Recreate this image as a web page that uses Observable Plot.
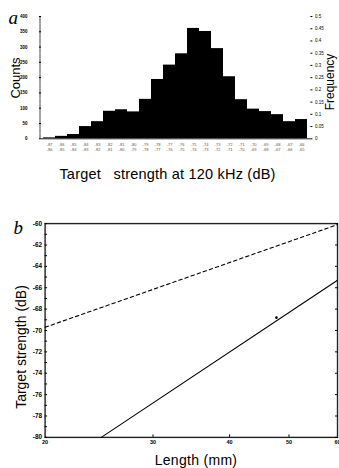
<!DOCTYPE html>
<html><head><meta charset="utf-8">
<script src="https://cdn.jsdelivr.net/npm/d3@7"></script>
<script src="https://cdn.jsdelivr.net/npm/@observablehq/plot@0.6"></script>
<style>
body{margin:0;background:#fff;overflow:hidden;}
#wrap{position:relative;width:339px;height:468px;overflow:hidden;background:#fff;font-family:"Liberation Sans",Arial,Helvetica,sans-serif;color:#000;}
#a{position:absolute;left:0;top:0;}
#b{position:absolute;left:0;top:200px;}
.lab{position:absolute;white-space:nowrap;line-height:1;transform:translate(-50%,-50%);}
.rot{transform:translate(-50%,-50%) rotate(-90deg);}
</style></head><body><div id="wrap"><div id="a"></div><div id="b"></div>
<div class="lab rot" style="left:15px;top:78px;font-size:13px">Counts</div>
<div class="lab rot" style="left:330px;top:82px;font-size:12px">Frequency</div>
<div class="lab" style="left:167.5px;top:174px;font-size:14.5px;letter-spacing:0.2px">Target&nbsp;&nbsp; strength at 120 kHz (dB)</div>
<div class="lab rot" style="left:21px;top:347px;font-size:14px">Target strength (dB)</div>
<div class="lab" style="left:196px;top:460px;font-size:14px;letter-spacing:0.3px">Length (mm)</div>
</div>
<script>
// ---- Panel a: histogram of target strength at 120 kHz ----
const binLow  = [-87,-86,-85,-84,-83,-82,-81,-80,-79,-78,-77,-76,-75,-74,-73,-72,-71,-70,-69,-68,-67,-66];
const binHigh = [-86,-85,-84,-83,-82,-81,-80,-79,-78,-77,-76,-75,-74,-73,-72,-71,-70,-69,-68,-67,-66,-65];
const counts  = [3,8,14,40,56,90,95,88,129,194,241,278,361,351,295,203,128,97,89,79,56,63];
const countTicks = [0,50,100,150,200,250,300,350,400];
const freqTicks  = [0,0.05,0.1,0.15,0.2,0.25,0.3,0.35,0.4,0.45,0.5];
const countsPerFreq = 800; // 0.5 on the right axis sits at 400 counts

// ---- Panel b: target strength vs length ----
const dashedLen = [20, 60];
const dashedTS  = [-69.7, -60.1];
const solidLen  = [24.7, 60];
const solidTS   = [-80, -65.3];
const pointLen  = [47.7];
const pointTS   = [-68.8];
const yTicksB      = [-80,-78,-76,-74,-72,-70,-68,-66,-64,-62,-60];
const yMinorTicksB = d3.range(-80, -59, 1);
const xTicksB      = [20,30,40,50,60];

const sans = "Liberation Sans, Arial, Helvetica, sans-serif";
const serif = "Liberation Serif, DejaVu Serif, serif";

const binLabels = binLow.map((l,i)=> `${l} ${binHigh[i]}`);
const histData = binLabels.map((b,i)=>({bin:b, count:counts[i]}));

const hA = 195;
const chartA = Plot.plot({
  width: 339, height: hA,
  marginLeft: 41, marginRight: 29.6, marginTop: 16, marginBottom: hA - 138.3,
  style: {fontFamily: sans, background: "transparent", overflow: "visible", color: "black"},
  x: {type: "band", domain: binLabels, padding: 0},
  y: {domain: [0, 400]},
  marks: [
    Plot.barY(histData, {x: "bin", y: "count", fill: "black"}),
    Plot.frame({anchor: "left", stroke: "#444", strokeDasharray: "1.5,1", dx: -1.5}),
    Plot.frame({anchor: "bottom", stroke: "#222", strokeWidth: 1}),
    Plot.axisY(countTicks, {anchor: "left", tickSize: 2, tickPadding: 12, fontSize: 4.5, fontWeight: "bold", label: null}),
    Plot.axisY(freqTicks.map(f => f * countsPerFreq), {anchor: "right", tickSize: 2, tickPadding: 3, fontSize: 4.5,
      tickFormat: d => String(+(d / countsPerFreq).toFixed(2)), label: null}),
    Plot.axisX({tickSize: 0, tickPadding: 3.5, fontSize: 4, fill: "#555", label: null, tickFormat: d => d.replace(" ", "\n"), lineHeight: 1.2}),
    Plot.text(["a"], {frameAnchor: "top-left", dx: -33, dy: 7, lineAnchor: "bottom", textAnchor: "start",
      fontStyle: "italic", fontFamily: serif, fontSize: 19})
  ]
});
document.getElementById("a").append(chartA);

const hB = 268;
const chartB = Plot.plot({
  width: 342, height: hB,
  marginLeft: 45, marginRight: 2, marginTop: 23.3, marginBottom: 29,
  style: {fontFamily: sans, background: "transparent", overflow: "visible", color: "black"},
  x: {type: "log", domain: [20, 60]},
  y: {domain: [-80, -60]},
  marks: [
    Plot.frame({stroke: "#222", strokeWidth: 1.4}),
    Plot.line(dashedLen.map((l,i)=>({l, t: dashedTS[i]})), {x: "l", y: "t", stroke: "black", strokeWidth: 1.1, strokeDasharray: "3.5,3"}),
    Plot.line(solidLen.map((l,i)=>({l, t: solidTS[i]})), {x: "l", y: "t", stroke: "black", strokeWidth: 1.1}),
    Plot.dot(pointLen.map((l,i)=>({l, t: pointTS[i]})), {x: "l", y: "t", r: 1.3, fill: "black", stroke: "none"}),
    Plot.axisY(yTicksB, {anchor: "left", tickSize: 0, tickPadding: 3, fontSize: 6.5, fontWeight: "bold", label: null, tickFormat: d => String(d)}),
    Plot.axisY(yMinorTicksB, {anchor: "left", tickSize: 2.5, dx: 2.5, tickFormat: () => "", label: null}),
    Plot.axisY(yTicksB, {anchor: "right", tickSize: 3, dx: -3, tickFormat: () => "", label: null}),
    Plot.axisX(xTicksB, {anchor: "bottom", tickSize: 0, tickPadding: 2.5, fontSize: 5.5, fontWeight: "bold", label: null, tickFormat: d => String(d)}),
    Plot.axisX(xTicksB.slice(1, 4), {anchor: "bottom", tickSize: 2.5, dy: -2.5, tickFormat: () => "", label: null}),
    Plot.text(["b"], {frameAnchor: "top-left", dx: -32, dy: 10, lineAnchor: "bottom", textAnchor: "start",
      fontStyle: "italic", fontFamily: serif, fontSize: 19})
  ]
});
document.getElementById("b").append(chartB);
</script>
</body></html>
